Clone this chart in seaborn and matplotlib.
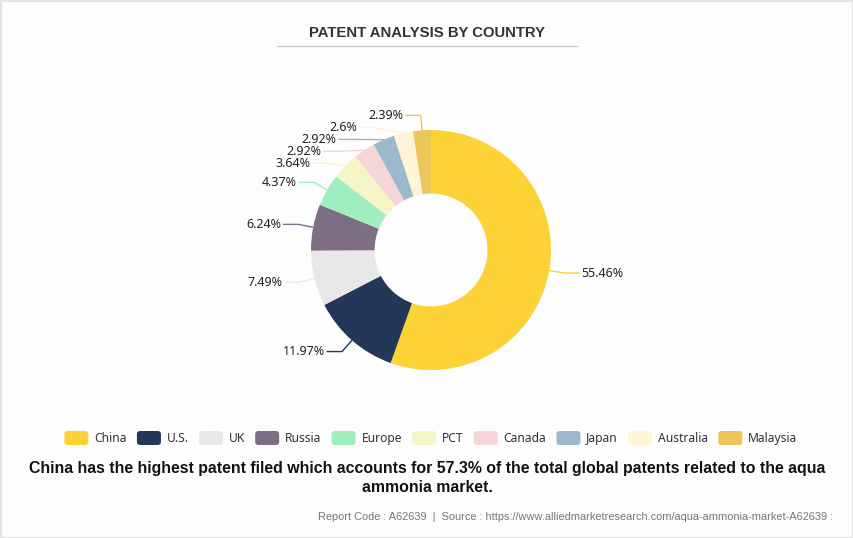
import numpy as np
import matplotlib.pyplot as plt
import seaborn as sns
from matplotlib.patches import FancyBboxPatch, Rectangle
from matplotlib.lines import Line2D

# -------------------- data --------------------
countries = ["China", "U.S.", "UK", "Russia", "Europe", "PCT", "Canada", "Japan", "Australia", "Malaysia"]
shares = [55.46, 11.97, 7.49, 6.24, 4.37, 3.64, 2.92, 2.92, 2.6, 2.39]
share_labels = ["55.46%", "11.97%", "7.49%", "6.24%", "4.37%", "3.64%", "2.92%", "2.92%", "2.6%", "2.39%"]
colors = ["#FDD236", "#243758", "#E8E8E8", "#7D6E84", "#A0EEC0",
          "#F5F5C5", "#F6D5D8", "#9DB8CC", "#FDF5D5", "#ECC658"]

title = "PATENT ANALYSIS BY COUNTRY"
caption = ("China has the highest patent filed which accounts for 57.3% of the total global patents related to the aqua\n"
           "ammonia market.")
footer = "Report Code : A62639  |  Source : https://www.alliedmarketresearch.com/aqua-ammonia-market-A62639 :"

# -------------------- style --------------------
sns.set_theme(style="white")
plt.rcParams["font.family"] = ["Liberation Sans", "DejaVu Sans"]
palette = sns.color_palette(colors)
label_font = ["Noto Sans", "DejaVu Sans"]

W, H = 854, 538
fig = plt.figure(figsize=(W / 100, H / 100), dpi=100, facecolor="#fdfdfd")

# overlay axes in pixel units (origin top-left) for title, legend and notes
over = fig.add_axes([0, 0, 1, 1])
over.set_xlim(0, W)
over.set_ylim(H, 0)
over.axis("off")
over.add_patch(Rectangle((0.5, 0.5), W - 1, H - 1, fill=False, edgecolor="#e4e4e4", lw=1.5))

# donut axes: 1 data unit = 120 px, centre at (431, 250) px from top
cx, cy, unit = 431, 250, 120
half = 2.0
ax = fig.add_axes([(cx - half * unit) / W, (H - cy - half * unit) / H,
                   2 * half * unit / W, 2 * half * unit / H])

wedges, _ = ax.pie(shares, colors=palette, startangle=90, counterclock=False,
                   radius=1.0, wedgeprops=dict(width=0.53, linewidth=0))
# pie() resets the limits, so fix them afterwards
ax.set_xlim(-half, half)
ax.set_ylim(-half, half)
ax.set_aspect("equal")
ax.axis("off")

# -------------------- labels with leader lines --------------------
R = 1.125
gap = 0.1
fr = np.array(shares) / sum(shares)
mids = 90 - 360 * (np.cumsum(fr) - fr / 2)
rad = np.deg2rad(mids)
xs, ys = np.cos(rad), np.sin(rad)
label_y = R * ys

# push left-side labels apart, top to bottom
left = [i for i in range(len(shares)) if xs[i] < 0]
left.sort(key=lambda i: -label_y[i])
for k in range(1, len(left)):
    prev, cur = left[k - 1], left[k]
    if label_y[prev] - label_y[cur] < gap:
        label_y[cur] = label_y[prev] - gap

for i in range(len(shares)):
    side = 1 if xs[i] >= 0 else -1
    ey = label_y[i]
    ex = side * np.sqrt(max(R ** 2 - ey ** 2, 0))
    tx = ex + side * 0.125
    ax.add_line(Line2D([xs[i], ex, tx], [ys[i], ey, ey], color=colors[i], lw=1))
    ax.text(tx + side * 0.02, ey, share_labels[i], ha="left" if side > 0 else "right",
            va="center", fontsize=9, color="#222222", family=label_font)

# -------------------- title --------------------
over.text(427, 33, title, ha="center", va="center", fontsize=10.7,
          fontweight="bold", color="#333333")
over.add_line(Line2D([277, 577], [46, 46], color="#cccccc", lw=1))

# -------------------- legend (laid out by hand) --------------------
renderer = fig.canvas.get_renderer()
sw, sh, pad, sep, ly = 24, 14, 6, 10, 438
texts = [over.text(0, ly + 4, n, ha="left", va="baseline", fontsize=8.7,
                   color="#333333", family=label_font) for n in countries]
widths = [t.get_window_extent(renderer).width for t in texts]
total = sum(sw + pad + w for w in widths) + sep * (len(countries) - 1)
x = 431 - total / 2
for c, t, w in zip(colors, texts, widths):
    over.add_patch(FancyBboxPatch((x, ly - sh / 2), sw, sh, boxstyle="round,pad=0,rounding_size=3",
                                  facecolor=c, edgecolor="none"))
    t.set_x(x + sw + pad)
    x += sw + pad + w + sep

# -------------------- notes --------------------
over.text(427, 478, caption, ha="center", va="center", fontsize=11.4,
          fontweight="bold", color="#111111", linespacing=1.25)
over.text(833, 517, footer, ha="right", va="center", fontsize=7.9, color="#777777")

fig.savefig("out.png", dpi=100, facecolor=fig.get_facecolor())
